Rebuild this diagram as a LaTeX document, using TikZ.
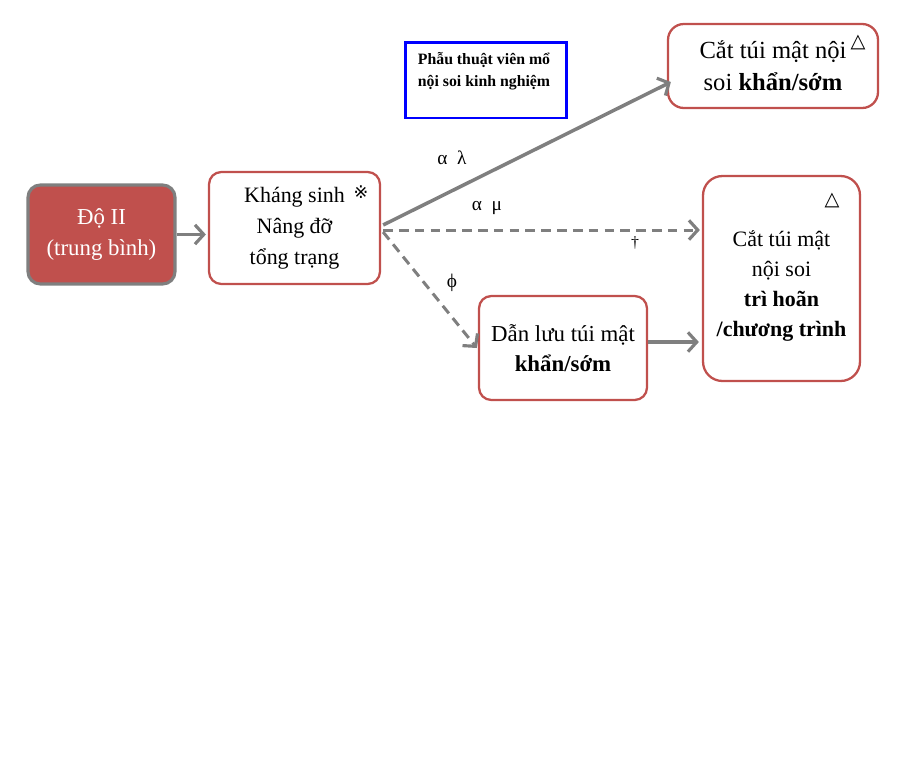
\documentclass[tikz,border=0pt]{standalone}
\usepackage{fontspec}
\setmainfont{Liberation Serif}
\newfontfamily\symfont{DejaVu Sans}
\usetikzlibrary{arrows.meta,calc}
\definecolor{flowRed}{HTML}{C0504D}
\definecolor{flowGray}{HTML}{7F7F7F}
\definecolor{flowBlue}{HTML}{0000FF}

\begin{document}
\begin{tikzpicture}[x=0.02cm,y=-0.02cm,
  box/.style={draw=flowRed,line width=1.3pt,rounded corners=7pt,fill=white,align=center,inner sep=0pt},
  arr/.style={flowGray,line width=2pt,-{Straight Barb[length=5pt,width=11pt,line width=1.8pt]}},
  dsh/.style={arr,line width=1.7pt,dash pattern=on 5.5pt off 3.5pt},
  lbl/.style={font=\fontsize{11}{13}\selectfont}]
\useasboundingbox (0,0) rectangle (902,768);
% boxes
\node[box,draw=flowGray,line width=1.8pt,fill=flowRed,text=white,minimum width=2.94cm,minimum height=1.98cm,
  font=\fontsize{13}{18}\selectfont] (deg) at (101.5,234.5) {Độ II\\(trung bình)};
\node[box,minimum width=3.42cm,minimum height=2.24cm,font=\fontsize{12.5}{17.5}\selectfont] (tx) at (294.5,228)
  {Kháng sinh\\Nâng đỡ\\tổng trạng};
\node[font=\symfont\fontsize{10}{10}\selectfont] (ref) at (361,192) {※};
\node[draw=flowBlue,line width=1.7pt,minimum width=3.24cm,minimum height=1.52cm] (pt) at (486,80) {};
\node[align=center,font=\bfseries\fontsize{9}{12.5}\selectfont] (ptt) at (484,71) {Phẫu thuật viên mổ\\nội soi kinh nghiệm};
\node[box,rounded corners=9pt,minimum width=4.2cm,minimum height=1.68cm,font=\fontsize{14}{18}\selectfont] (ck) at (773,66)
  {Cắt túi mật nội\\soi \textbf{khẩn/sớm}};
\node[font=\symfont\bfseries\fontsize{11}{11}\selectfont] (tri1) at (858,42) {△};
\node[box,rounded corners=11pt,minimum width=3.14cm,minimum height=4.1cm] (ct) at (781.5,278.5) {};
\node[align=center,font=\fontsize{12.5}{17}\selectfont] (ctt) at (781.5,286)
  {Cắt túi mật\\nội soi\\\textbf{trì hoãn}\\\textbf{/chương trình}};
\node[font=\symfont\bfseries\fontsize{11}{11}\selectfont] (tri2) at (832,200) {△};
\node[box,minimum width=3.36cm,minimum height=2.08cm,font=\fontsize{13}{17}\selectfont] (dl) at (563,348)
  {Dẫn lưu túi mật\\\textbf{khẩn/sớm}};
% arrows
\draw[arr] (deg.east) -- ($(tx.west |- deg.east)+(-2,0)$);
\draw[arr] ($(tx.east)+(2,-3)$) -- ($(ck.west)+(4,16)$);
\draw[dsh] ($(tx.east)+(2,2)$) -- ($(ct.west |- tx.east)+(-2,2)$);
\draw[dsh] ($(tx.east)+(2,4)$) -- ($(dl.west)+(-1,0)$);
\draw[arr] ($(dl.east)+(0,-6)$) -- ($(ct.west |- dl.east)+(-3,-6)$);
% labels
\node[lbl] (al) at (452,158) {α\ \ λ};
\node[lbl] (am) at (487,208) {α\ \ μ};
\node[font=\fontsize{9}{9}\selectfont] (dg) at (635,243) {†};
\node[lbl] (ph) at (452,283) {ϕ};
\end{tikzpicture}
\end{document}
